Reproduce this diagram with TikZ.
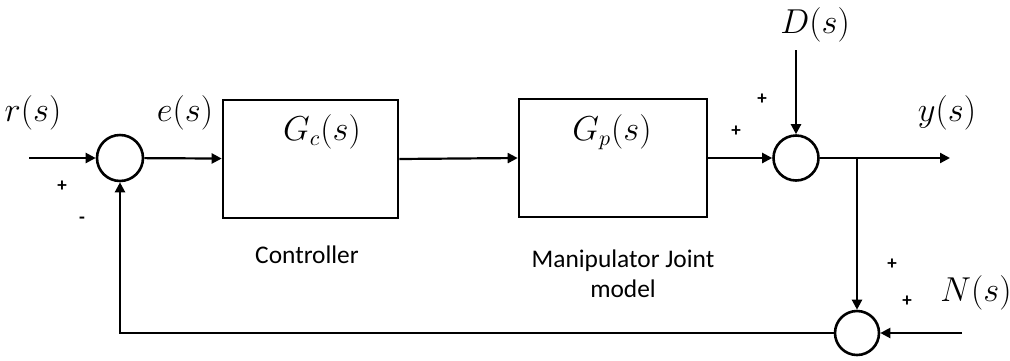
\documentclass[tikz,border=0pt]{standalone}
\usepackage{fontspec}
\setmainfont{Carlito}
\usetikzlibrary{arrows.meta}

\begin{document}
\begin{tikzpicture}[x=0.5pt,y=-0.5pt,
    sig/.style={draw=black,line width=1.1pt,-{Triangle[length=5pt,width=5pt]}},
    wire/.style={draw=black,line width=1.1pt}]
\useasboundingbox (0,0) rectangle (1010,360);
% blocks and summing points
\begin{scope}[every node/.style={draw,line width=1.3pt,inner sep=0pt}]
    \node[circle,minimum size=23pt] (sum1) at (120,158) {};
    \node[rectangle,minimum width=87.5pt,minimum height=59pt] (ctrl) at (310.5,159) {};
    \node[rectangle,minimum width=94pt,minimum height=59pt] (plant) at (613,158) {};
    \node[circle,minimum size=22.5pt] (sum2) at (796,158) {};
    \node[circle,minimum size=22pt] (sum3) at (857,333) {};
\end{scope}
\coordinate (rin) at (29,158);
\coordinate (dtop) at (796,50);
\coordinate (yout) at (950,158);
\coordinate (tap) at (857,158);
\coordinate (nin) at (962,333);
\coordinate (fb) at (120,333);
% labels
\begin{scope}[every node/.style={font=\fontsize{16}{19}\selectfont}]
    \node (rlab) at (33,113) {$r(s)$};
    \node (elab) at (185,113) {$e(s)$};
    \node (gclab) at (322,132) {$G_c(s)$};
    \node (gplab) at (612,132) {$G_p(s)$};
    \node (dlab) at (815,25) {$D(s)$};
    \node (ylab) at (947,113) {$y(s)$};
    \node (nlab) at (976,293) {$N(s)$};
\end{scope}
\begin{scope}[every node/.style={font=\fontsize{12.7}{15}\selectfont,align=center}]
    \node (ctrltxt) at (307,255) {Controller};
    \node (planttxt) at (623,274) {Manipulator Joint\\model};
\end{scope}
\begin{scope}[every node/.style={font=\fontsize{9.5}{11}\selectfont\bfseries}]
    \node (p1) at (62,186) {+};
    \node (m1) at (82,220) {-};
    \node (p2) at (736,131) {+};
    \node (p3) at (762,99) {+};
    \node (p4) at (892,264) {+};
    \node (p5) at (907,301) {+};
\end{scope}
% connections
\path[sig] (rin) -- (sum1);
\path[sig] (sum1) -- (ctrl);
\path[sig] (ctrl.east) -- (plant.west);
\path[sig] (plant.east) -- (sum2.west);
\path[sig] (dtop) -- (sum2.north);
\path[sig] (sum2.east) -- (yout);
\path[sig] (tap) -- (sum3.north);
\path[sig] (nin) -- (sum3.east);
\path[sig] (sum3.west) -- (fb) -- (sum1.south);
\end{tikzpicture}
\end{document}
